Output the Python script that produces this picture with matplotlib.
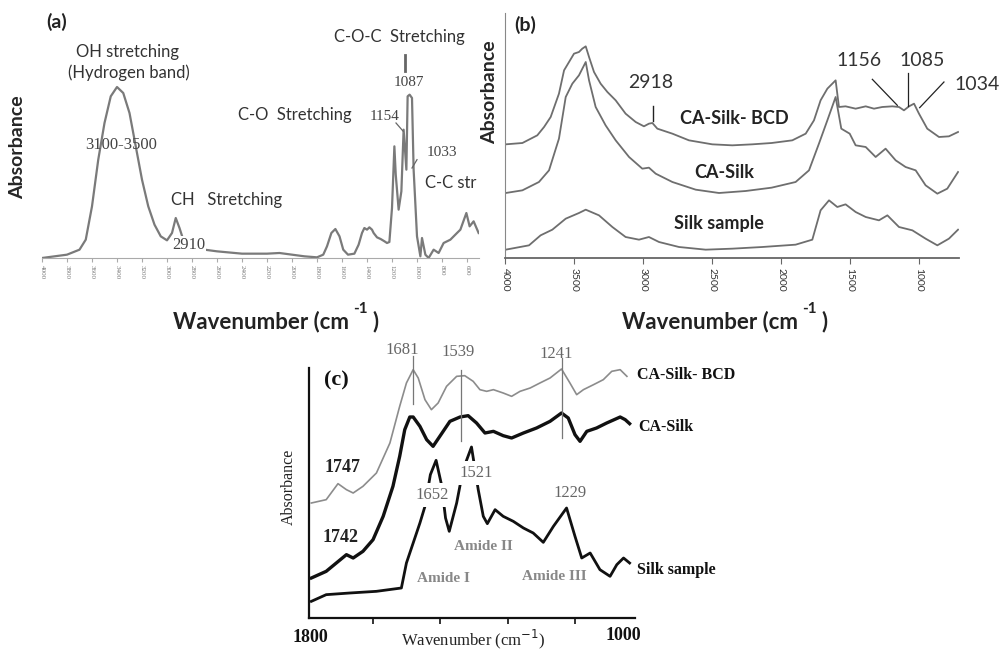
import matplotlib
matplotlib.use("Agg")
import matplotlib.pyplot as plt

W, H = 1008, 652
SANS = ["Lato", "DejaVu Sans"]
SERIF = ["Liberation Serif", "DejaVu Serif"]

# ── (a) reference spectrum: wavenumber (cm-1) vs absorbance (a.u.) ──────────
a_wn = [4000, 3900, 3800, 3700, 3650, 3600, 3550, 3500, 3450, 3400, 3350, 3300,
        3250, 3200, 3150, 3100, 3050, 3000, 2960, 2930, 2900, 2870, 2800, 2700,
        2600, 2400, 2200, 2100, 2000, 1900, 1800, 1750, 1720, 1685, 1653, 1620,
        1590, 1552, 1501, 1467, 1440, 1421, 1400, 1381, 1360, 1347, 1320, 1291,
        1260, 1240, 1221, 1200, 1181, 1170, 1147, 1125, 1107, 1085, 1075, 1059,
        1040, 1027, 1000, 973, 960, 933, 907, 867, 827, 787, 733, 680, 653, 605,
        579, 547, 507]
a_abs = [0, 5, 10, 25, 55, 155, 295, 405, 485, 513, 495, 435,
         335, 235, 155, 100, 65, 53, 75, 120, 90, 55, 35, 25,
         20, 13, 13, 15, 10, 5, 2, 10, 35, 75, 87, 65,
         25, 10, 13, 40, 75, 90, 85, 92, 85, 75, 62, 57,
         50, 45, 48, 150, 335, 250, 145, 200, 385, 265, 485, 490,
         480, 265, 65, 5, 60, 10, 0, 25, 15, 45, 55, 75, 85, 135,
         95, 110, 75]

# ── (b) full range spectra ───────────────────────────────────────────────────
b_wn = [3995, 3874, 3766, 3717, 3669, 3609, 3572, 3536, 3500, 3464, 3440, 3415,
        3391, 3355, 3307, 3258, 3198, 3126, 3053, 2993, 2957, 2932, 2896, 2787,
        2667, 2498, 2353, 2208, 2068, 1918, 1821, 1761, 1713, 1664, 1604, 1580,
        1532, 1459, 1386, 1326, 1266, 1193, 1145, 1109, 1072, 1036, 1000, 940,
        855, 783, 717]
b_bcd = [341, 345, 368, 393, 423, 493, 563, 588, 613, 618, 628, 635,
         603, 558, 523, 498, 473, 433, 408, 395, 403, 405, 388, 373,
         353, 341, 338, 341, 345, 353, 373, 413, 473, 508, 533, 453,
         455, 448, 455, 448, 453, 455, 453, 443, 455, 463, 433, 388,
         363, 365, 378]
b_silk_wn = [3995, 3874, 3754, 3681, 3609, 3560, 3512, 3464, 3415, 3391, 3343,
             3271, 3198, 3101, 3005, 2957, 2908, 2787, 2618, 2449, 2256, 2068,
             1894, 1797, 1725, 1664, 1604, 1563, 1502, 1459, 1386, 1314, 1242,
             1169, 1097, 1024, 952, 867, 795, 717]
b_ca_silk = [195, 203, 228, 263, 358, 483, 523, 548, 588, 533, 453,
             398, 353, 303, 268, 271, 253, 228, 205, 195, 201, 211,
             228, 263, 343, 413, 483, 388, 373, 338, 333, 303, 328,
             293, 273, 263, 218, 193, 208, 258]
b_raw_wn = [3995, 3826, 3742, 3657, 3560, 3464, 3415, 3319, 3222, 3126, 3029,
            2957, 2884, 2739, 2546, 2353, 2135, 1894, 1773, 1713, 1652, 1592,
            1532, 1459, 1386, 1290, 1229, 1145, 1048, 952, 867, 783, 717]
b_raw = [25, 38, 68, 85, 118, 135, 145, 128, 93, 63, 55,
         63, 48, 33, 25, 28, 33, 40, 55, 143, 173, 153,
         161, 138, 123, 113, 128, 93, 83, 58, 38, 58, 85]

# ── (c) amide region ─────────────────────────────────────────────────────────
c_wn = [1983, 1939, 1904, 1879, 1859, 1830, 1790, 1750, 1721, 1701, 1681, 1666,
        1646, 1627, 1607, 1582, 1552, 1528, 1503, 1483, 1463, 1443, 1414, 1389,
        1364, 1334, 1305, 1275, 1241, 1216, 1196, 1176, 1146, 1117, 1092, 1067,
        1047]
c_bcd = [345, 355, 403, 385, 375, 395, 435, 525, 635, 705, 745, 720,
         655, 625, 645, 695, 725, 727, 710, 685, 680, 685, 675, 665,
         680, 690, 705, 720, 747, 705, 670, 685, 700, 715, 740, 745,
         725]
c_ca_wn = [1983, 1939, 1879, 1859, 1830, 1800, 1770, 1741, 1721, 1706, 1691, 1681,
           1661, 1641, 1622, 1602, 1572, 1542, 1518, 1493, 1468, 1443, 1414, 1389,
           1354, 1315, 1275, 1241, 1221, 1201, 1186, 1166, 1137, 1107, 1067, 1052,
           1039]
c_ca = [120, 140, 190, 180, 200, 235, 305, 395, 485, 565, 603, 603,
        575, 535, 515, 545, 590, 603, 607, 585, 555, 560, 547, 540,
        555, 570, 590, 615, 600, 550, 530, 560, 570, 585, 603, 595,
        583]
c_raw_wn = [1983, 1939, 1869, 1790, 1716, 1701, 1681, 1661, 1646, 1630, 1613, 1597,
            1585, 1574, 1552, 1533, 1508, 1488, 1473, 1461, 1438, 1414, 1384, 1354,
            1325, 1295, 1265, 1226, 1201, 1181, 1156, 1127, 1097, 1077, 1057, 1039]
c_raw = [50, 70, 75, 80, 90, 165, 225, 285, 335, 430, 473, 400,
         300, 260, 345, 445, 513, 385, 305, 283, 325, 305, 290, 270,
         255, 227, 275, 330, 245, 180, 195, 145, 125, 160, 180, 165]

ticks_a = list(range(4000, 500, -200))
ticks_b = [4000, 3500, 3000, 2500, 2000, 1500, 1000]
ticks_c = [1800, 1600, 1400, 1200]
marks_c = [1681, 1539, 1241]


fig = plt.figure(figsize=(W / 100, H / 100), dpi=100)
renderer = fig.canvas.get_renderer()


def box(x0, ytop, x1, ybot):
    return [x0 / W, 1 - ybot / H, (x1 - x0) / W, (ybot - ytop) / H]


def ftext(x, y, s, **kw):
    kw.setdefault("ha", "center")
    kw.setdefault("va", "center")
    return fig.text(x / W, 1 - y / H, s, **kw)


def wavelabel(x, y):
    # bold sans "Wavenumber (cm -1 )" as used in panels (a) and (b)
    st = dict(family=SANS, fontweight="bold", color="#222")
    t = ftext(x, y, "Wavenumber (cm", ha="left", fontsize=16, **st)
    x_end = t.get_window_extent(renderer).x1
    sup = ftext(x_end + 4, y - 13, "-1", ha="left", fontsize=11, **st)
    sup_end = sup.get_window_extent(renderer).x1
    ftext(sup_end + 5, y, ")", ha="left", fontsize=16, **st)


# ── Panel (a) ────────────────────────────────────────────────────────────────
ax1 = fig.add_axes(box(42, 30, 479, 258))
ax1.plot(a_wn, a_abs, color="#7a7a7a", lw=1.6)
ax1.set_xlim(4000, 504)
ax1.set_ylim(0, 684)
for s in ("top", "right", "left"):
    ax1.spines[s].set_visible(False)
ax1.spines["bottom"].set_color("#aaaaaa")
ax1.set_yticks([])
ax1.set_xticks(ticks_a)
ax1.set_xticklabels([str(t) for t in ticks_a], rotation=270, fontsize=5,
                    family=SERIF, color="#777")
ax1.tick_params(axis="x", length=3, color="#aaaaaa", pad=2)

ftext(57, 22, "(a)", fontsize=14, family=SANS, fontweight="bold", color="#222")
ftext(18, 147, "Absorbance", rotation=90, fontsize=14, family=SANS,
      fontweight="bold", color="#262626")
ftext(128, 52, "OH stretching", fontsize=12, family=SANS, color="#333")
ftext(129, 73, "(Hydrogen band)", fontsize=12, family=SANS, color="#333")
ftext(121, 145, "3100-3500", fontsize=12, family=SERIF, color="#444")
ftext(227, 200, "CH   Stretching", fontsize=12, family=SANS, color="#333")
ftext(189, 245, "2910", fontsize=12, family=SERIF, color="#444",
      bbox=dict(fc="white", ec="none", pad=0.5))
ftext(295, 115, "C-O  Stretching", fontsize=12, family=SANS, color="#333")
ftext(385, 117, "1154", fontsize=11, family=SERIF, color="#444")
ftext(399, 37, "C-O-C  Stretching", fontsize=12, family=SANS, color="#333")
ftext(409, 83, "1087", fontsize=11, family=SERIF, color="#444")
ftext(442, 153, "1033", fontsize=11, family=SERIF, color="#444")
ftext(451, 183, "C-C str", fontsize=12, family=SANS, color="#333")
ax1.plot([1093, 1093], [610, 560], color="#666", lw=2, clip_on=False)
ax1.plot([1168, 1110], [405, 380], color="#666", lw=0.9)
ax1.plot([1000, 1040], [295, 270], color="#666", lw=0.9)
wavelabel(173, 322)

# ── Panel (b) ────────────────────────────────────────────────────────────────
ax2 = fig.add_axes(box(505, 13, 959, 258))
ax2.plot(b_wn, b_bcd, color="#6e6e6e", lw=1.3)
ax2.plot(b_silk_wn, b_ca_silk, color="#6e6e6e", lw=1.3)
ax2.plot(b_raw_wn, b_raw, color="#6e6e6e", lw=1.3)
ax2.set_xlim(4000, 710)
ax2.set_ylim(0, 735)
for s in ("top", "right"):
    ax2.spines[s].set_visible(False)
ax2.spines["left"].set_color("#888")
ax2.spines["bottom"].set_color("#666")
ax2.spines["bottom"].set_linewidth(1.3)
ax2.set_yticks([])
ax2.set_xticks(ticks_b)
ax2.set_xticklabels([str(t) for t in ticks_b], rotation=270, fontsize=7.5,
                    family=SANS, color="#333")
ax2.tick_params(axis="x", length=4, color="#666", pad=3)
ax2.plot([2925, 2925], [411, 455], color="#222", lw=1)
ax2.plot([1338, 1157], [536, 458], color="#222", lw=0.9)
ax2.plot([1080, 1080], [555, 455], color="#222", lw=0.9)
ax2.plot([819, 995], [528, 451], color="#222", lw=0.9)

ftext(525, 25, "(b)", fontsize=14, family=SANS, fontweight="bold", color="#222")
ftext(490, 92, "Absorbance", rotation=90, fontsize=14, family=SANS,
      fontweight="bold", color="#262626")
ftext(651, 83, "2918", fontsize=14, family=SANS, color="#333")
ftext(734, 118, "CA-Silk- BCD", fontsize=13, family=SANS, fontweight="bold", color="#222")
ftext(724, 173, "CA-Silk", fontsize=13, family=SANS, fontweight="bold", color="#222")
ftext(719, 223, "Silk sample", fontsize=13, family=SANS, fontweight="bold", color="#222")
ftext(859, 60, "1156", fontsize=14, family=SANS, color="#333")
ftext(922, 60, "1085", fontsize=14, family=SANS, color="#333")
ftext(977, 85, "1034", fontsize=14, family=SANS, color="#333")
wavelabel(622, 322)

# ── Panel (c) ────────────────────────────────────────────────────────────────
ax3 = fig.add_axes(box(309, 368, 635, 618))
ax3.plot(c_wn, c_bcd, color="#8c8c8c", lw=1.2, clip_on=False)
ax3.plot(c_ca_wn, c_ca, color="#111", lw=2.4)
ax3.plot(c_raw_wn, c_raw, color="#111", lw=2.0)
for m, lo, hi in zip(marks_c, [643, 530, 540], [785, 745, 780]):
    ax3.plot([m, m], [lo, hi], color="#777", lw=0.9, clip_on=False)
ax3.set_xlim(1990, 1023)
ax3.set_ylim(0, 750)
for s in ("top", "right"):
    ax3.spines[s].set_visible(False)
for s in ("left", "bottom"):
    ax3.spines[s].set_color("#111")
    ax3.spines[s].set_linewidth(1.6)
ax3.set_yticks([])
ax3.set_xticks(ticks_c)
ax3.set_xticklabels([])
ax3.tick_params(axis="x", length=4, width=1.2, color="#111")

ftext(336, 380, "(c)", fontsize=16, family=SERIF, fontweight="bold", color="#111")
ftext(289, 487, "Absorbance", rotation=90, fontsize=11.5, family=SERIF, color="#222")
ftext(402, 350, "1681", fontsize=12, family=SERIF, color="#666")
ftext(458, 352, "1539", fontsize=12, family=SERIF, color="#666")
ftext(556, 354, "1241", fontsize=12, family=SERIF, color="#666")
ftext(637, 375, "CA-Silk- BCD", ha="left", fontsize=11.5, family=SERIF,
      fontweight="bold", color="#111")
ftext(638, 427, "CA-Silk", ha="left", fontsize=11.5, family=SERIF,
      fontweight="bold", color="#111")
ftext(637, 570, "Silk sample", ha="left", fontsize=11.5, family=SERIF,
      fontweight="bold", color="#111")
ftext(343, 468, "1747", fontsize=13, family=SERIF, fontweight="bold", color="#222")
ftext(341, 538, "1742", fontsize=13, family=SERIF, fontweight="bold", color="#222")
ftext(432, 495, "1652", fontsize=12, family=SERIF, color="#666",
      bbox=dict(fc="white", ec="none", pad=3))
ftext(476, 473, "1521", fontsize=12, family=SERIF, color="#666",
      bbox=dict(fc="white", ec="none", pad=3))
ftext(570, 493, "1229", fontsize=12, family=SERIF, color="#666")
ftext(483, 547, "Amide II", fontsize=11, family=SERIF, fontweight="bold", color="#888")
ftext(443, 578, "Amide I", fontsize=11, family=SERIF, fontweight="bold", color="#888")
ftext(554, 577, "Amide III", fontsize=11, family=SERIF, fontweight="bold", color="#888")
ftext(310, 637, "1800", fontsize=13, family=SERIF, fontweight="bold", color="#111")
ftext(623, 636, "1000", fontsize=13, family=SERIF, fontweight="bold", color="#111")
ftext(473, 639, "Wavenumber (cm$^{-1}$)", fontsize=12, family=SERIF, color="#222")

fig.savefig("out.png", dpi=100)
